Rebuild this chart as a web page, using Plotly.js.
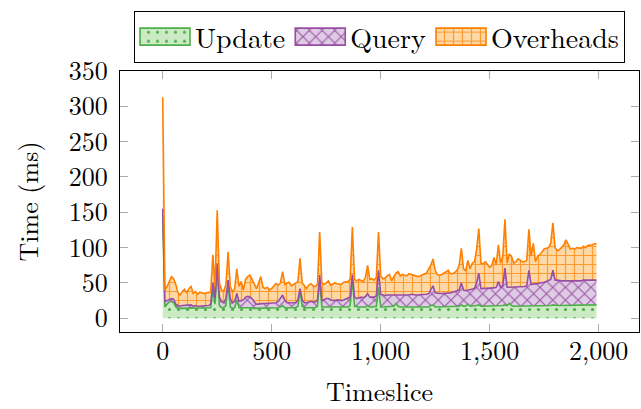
<!DOCTYPE html>
<html><head><meta charset="utf-8">
<script src="https://cdn.plot.ly/plotly-3.0.1.min.js"></script>
<style>html,body{margin:0;padding:0;background:#fff}#chart{width:641px;height:409px}</style>
</head><body><div id="chart"></div>
<script>
const timeslice = [0,10,20,30,40,50,60,70,80,90,100,110,120,130,140,150,160,170,180,190,
200,210,220,230,240,250,260,270,280,290,300,310,320,330,340,350,360,370,380,390,
400,410,420,430,440,450,460,470,480,490,500,510,520,530,540,550,560,570,580,590,
600,610,620,630,640,650,660,670,680,690,700,710,720,730,740,750,760,770,780,790,
800,810,820,830,840,850,860,870,880,890,900,910,920,930,940,950,960,970,980,990,
1000,1010,1020,1030,1040,1050,1060,1070,1080,1090,1100,1110,1120,1130,1140,1150,1160,1170,1180,1190,
1200,1210,1220,1230,1240,1250,1260,1270,1280,1290,1300,1310,1320,1330,1340,1350,1360,1370,1380,1390,
1400,1410,1420,1430,1440,1450,1460,1470,1480,1490,1500,1510,1520,1530,1540,1550,1560,1570,1580,1590,
1600,1610,1620,1630,1640,1650,1660,1670,1680,1690,1700,1710,1720,1730,1740,1750,1760,1770,1780,1790,
1800,1810,1820,1830,1840,1850,1860,1870,1880,1890,1900,1910,1920,1930,1940,1950,1960,1970,1980,1990];

const update = [148,16,20,23,24,22,16,14,14,14, 14,14,14,14,14,14,14,14,14,14,
14,14,15,40,20,71,18,15,15,18, 50,16,14,15,26,15,15,15,16,16,
16,15,14,14,14,14,14,14,14,15, 15,15,15,15,16,18,15,15,15,15,
15,15,17,40,17,15,15,15,15,15, 15,17,54,16,16,16,16,16,16,16,
16,16,16,16,16,16,18,56,17,16, 16,16,16,16,18,16,16,16,17,44,
16,16,16,16,16,16,17,21,17,16, 16,16,16,16,16,16,16,16,16,16,
16,16,16,18,19,16,16,16,16,16, 16,16,16,16,16,16,17,19,17,17,
20,17,17,17,18,19,17,17,17,17, 17,17,17,17,18,17,18,19,18,21,
18,17,17,17,17,17,17,17,18,17, 17,17,17,17,18,18,18,18,18,19,
18,18,18,18,18,18,18,18,18,18, 18,18,19,19,19,19,19,19,19,19];

const query = [7,8,5,4,4,5,4,4,3,4, 4,4,4,5,3,4,3,3,4,3,
3,4,5,10,8,7,12,9,7,10, 4,12,8,9,9,9,10,11,14,15,
14,13,9,6,6,7,7,7,7,6, 6,6,7,9,12,15,11,7,7,7,
7,7,9,2,9,7,7,8,9,8, 8,9,7,10,10,12,12,10,9,9,
10,9,9,10,11,12,12,6,13,12, 13,14,13,15,17,14,14,14,15,24,
18,17,16,17,17,16,16,12,16,17, 17,16,17,17,18,17,17,17,17,18,
18,18,19,22,27,20,19,19,19,19, 19,20,20,21,22,22,23,31,23,22,
20,23,25,25,32,45,25,25,26,26, 25,25,26,27,34,27,28,52,26,23,
26,27,27,27,28,28,28,29,50,31, 31,31,32,33,32,33,34,35,37,49,
36,36,35,35,35,35,34,34,34,35, 35,35,34,35,35,35,35,35,35,35];

const overheads = [158,16,20,25,31,29,28,18,16,20, 23,18,24,26,18,20,17,20,18,18,
19,18,17,40,17,75,20,16,16,20, 40,17,15,18,35,21,27,14,25,28,
31,27,25,22,30,38,23,21,23,19, 21,24,27,23,22,33,22,28,29,24,
26,27,26,43,24,24,20,24,25,23, 22,22,61,24,22,22,25,21,23,25,
23,23,23,25,24,24,25,67,25,25, 26,24,23,27,40,25,26,24,26,54,
26,23,25,27,29,21,25,31,33,27, 29,29,27,30,28,27,27,26,27,27,
28,30,35,35,38,32,27,26,27,29, 30,32,27,26,27,30,35,49,30,28,
42,30,36,38,47,63,36,35,37,33, 30,33,43,32,52,34,41,69,34,47,
44,34,36,40,37,35,35,36,58,40, 58,32,39,40,44,47,47,47,51,67,
46,42,44,48,51,58,52,46,47,45, 47,47,46,48,46,49,49,50,51,52];

const seriesNames = ['Update', 'Query', 'Overheads'];
const xTickVals = [0, 500, 1000, 1500, 2000];
const yTickVals = [0, 50, 100, 150, 200, 250, 300, 350];

const FONT = 'Latin Modern Roman, CMU Serif, Liberation Serif, serif';
const styles = [
  {line: '#4daf4a', fill: '#ccebc5', shape: '.', size: 9, solidity: 0.1, op: 1},
  {line: '#984ea3', fill: '#decbe4', shape: 'x', size: 9, solidity: 0.25, op: 0.9},
  {line: '#ff7f00', fill: '#fed9a6', shape: '+', size: 9, solidity: 0.25, op: 0.7}
];
const values = [update, query, overheads];

const traces = values.map((v, i) => ({
  type: 'scatter', mode: 'lines', x: timeslice, y: v, name: seriesNames[i],
  stackgroup: 'one', fill: i === 0 ? 'tozeroy' : 'tonexty',
  line: {color: styles[i].line, width: 1.6},
  fillcolor: styles[i].fill,
  fillpattern: {shape: styles[i].shape, fgcolor: styles[i].line, bgcolor: styles[i].fill,
                size: styles[i].size, solidity: styles[i].solidity, fillmode: 'replace', fgopacity: styles[i].op},
  hoverinfo: 'x+y+name'
}));

const axisCommon = {
  showgrid: false, zeroline: false, showline: true, linecolor: '#000', linewidth: 1,
  mirror: 'ticks', ticks: 'inside', ticklen: 8, tickcolor: '#aaaaaa', tickwidth: 1,
  tickfont: {family: FONT, size: 26, color: '#000'}
};

const layout = {
  width: 641, height: 409,
  margin: {l: 120, r: 2, t: 71, b: 77},
  paper_bgcolor: '#fff', plot_bgcolor: '#fff',
  font: {family: FONT, size: 26, color: '#000'},
  xaxis: Object.assign({}, axisCommon, {
    range: [-196, 2185], tickvals: xTickVals, tickformat: ',d', ticklabelstandoff: -4,
    title: {text: 'Timeslice', font: {family: FONT, size: 26}, standoff: 18}
  }),
  yaxis: Object.assign({}, axisCommon, {
    range: [-19.4, 350], tickvals: yTickVals, ticklabelstandoff: 6,
    title: {text: 'Time (ms)', font: {family: FONT, size: 26}, standoff: 22}
  }),
  showlegend: true,
  legend: {
    orientation: 'h', x: 0.5, xanchor: 'center', y: 1.23, yanchor: 'top',
    bordercolor: '#000', borderwidth: 1, bgcolor: '#fff', traceorder: 'normal',
    itemwidth: 50,
    font: {family: FONT, size: 28, color: '#000'}
  }
};

Plotly.newPlot('chart', traces, layout, {displayModeBar: false, staticPlot: true}).then(gd => {
  // enlarge the legend swatches to pgfplots-style boxes
  const rect = 'M5,-8.5h50v17h-50z';
  gd.querySelectorAll('.legend .traces').forEach(g => {
    const fill = g.querySelector('.legendfill path');
    const ln = g.querySelector('.legendlines path');
    if (fill) fill.setAttribute('d', rect);
    if (ln) { ln.setAttribute('d', rect); ln.style.fill = 'none'; }
  });
});
</script>
</body></html>
